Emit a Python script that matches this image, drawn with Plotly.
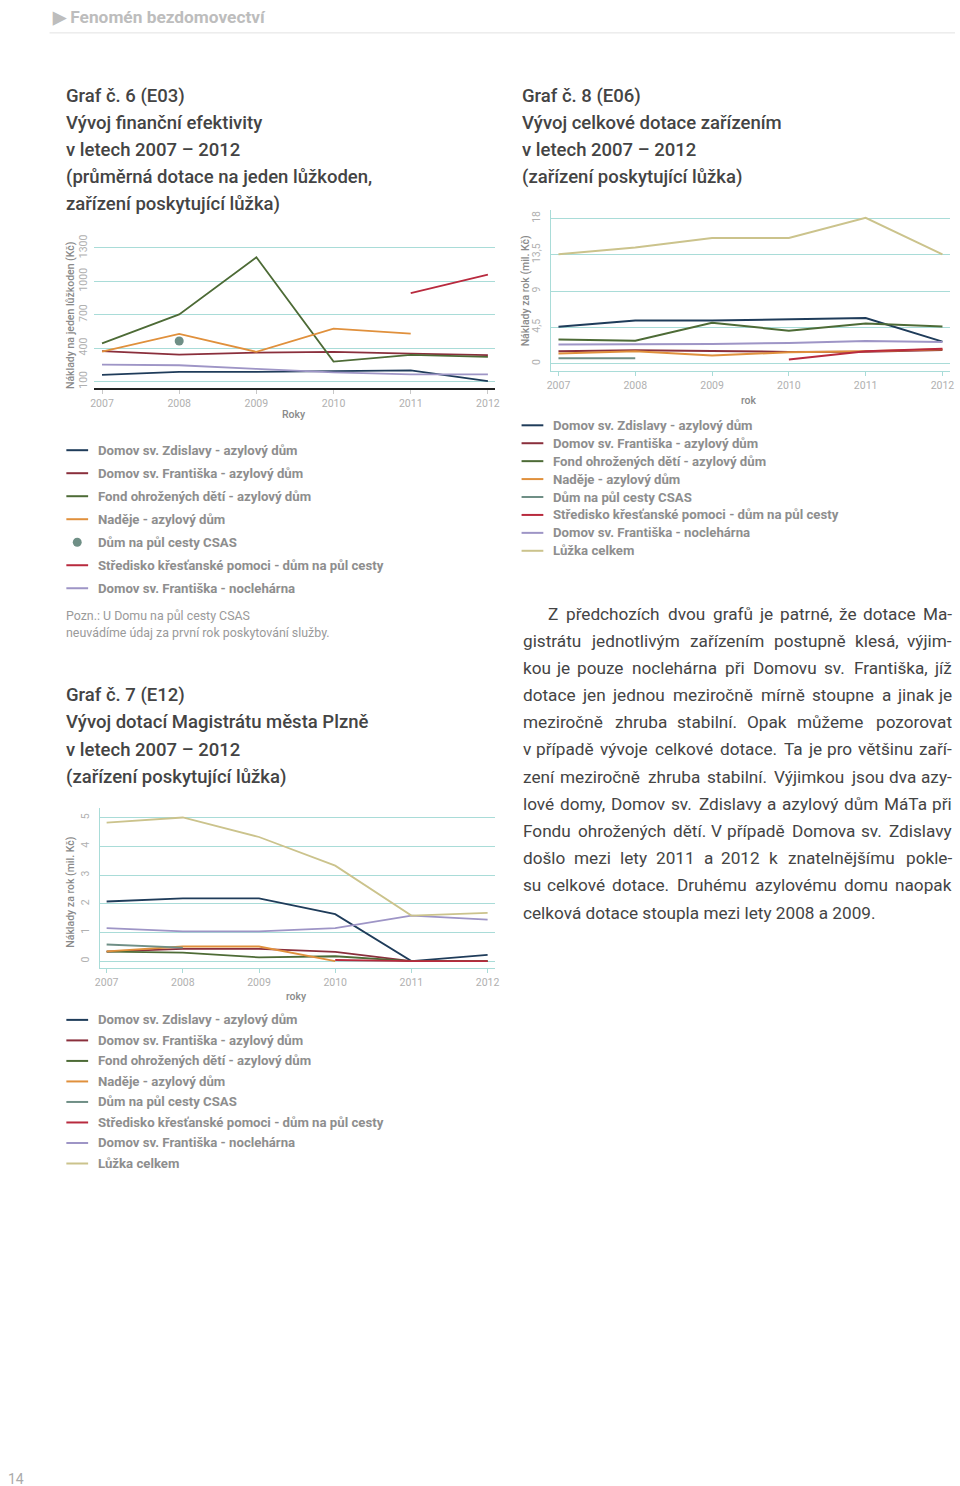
import plotly.graph_objects as go

W, H = 960, 1486
years = [2007, 2008, 2009, 2010, 2011, 2012]

names = [
    "Domov sv. Zdislavy - azylový dům",
    "Domov sv. Františka - azylový dům",
    "Fond ohrožených dětí - azylový dům",
    "Naděje - azylový dům",
    "Dům na půl cesty CSAS",
    "Středisko křesťanské pomoci - dům na půl cesty",
    "Domov sv. Františka - noclehárna",
    "Lůžka celkem",
]
colors = ["#1f3c5a", "#8a2f3c", "#4d6b36", "#e0903c", "#6f8f86", "#b82a3e", "#9e95c6", "#cbc38c"]

# Graf 6 (E03) - Kč per lůžkoden
g6_zdislavy = [160, 187, 187, 190, 199, 103]
g6_frantiska = [372, 342, 360, 366, 351, 336]
g6_fond = [443, 703, 1216, 279, 339, 321]
g6_nadeje = [369, 527, 366, 575, 530, None]
g6_csas = [None, 464, None, None, None, None]
g6_stredisko = [None, None, None, None, 894, 1061]
g6_nocleharna = [252, 246, 213, 181, 163, 163]
g6_ticks = [100, 400, 700, 1000, 1300]

# Graf 8 (E06) - mil. Kč
g8_zdislavy = [4.57, 5.35, 5.35, 5.48, 5.64, 2.72]
g8_frantiska = [1.52, 1.65, 1.57, 1.44, 1.48, 1.69]
g8_fond = [2.97, 2.84, 5.07, 4.08, 4.98, 4.61]
g8_nadeje = [1.24, 1.52, 0.99, 1.40, 1.52, 1.77]
g8_csas = [0.66, 0.66, None, None, None, None]
g8_stredisko = [None, None, None, 0.49, 1.52, 1.85]
g8_nocleharna = [2.35, 2.35, 2.43, 2.55, 2.80, 2.68]
g8_luzka = [13.55, 14.41, 15.57, 15.57, 18.08, 13.55]
g8_ticks = [0, 4.5, 9, 13.5, 18]
g8_ticktext = ["0", "4,5", "9", "13,5", "18"]

# Graf 7 (E12) - mil. Kč
g7_zdislavy = [2.08, 2.19, 2.19, 1.64, 0.0, 0.22]
g7_frantiska = [0.33, 0.43, 0.43, 0.32, 0.0, 0.0]
g7_fond = [0.33, 0.30, 0.13, 0.17, 0.0, 0.0]
g7_nadeje = [0.34, 0.51, 0.51, 0.0, None, None]
g7_csas = [0.58, 0.47, None, None, None, None]
g7_stredisko = [None, None, None, 0.04, 0.0, 0.0]
g7_nocleharna = [1.15, 1.04, 1.04, 1.15, 1.59, 1.45]
g7_luzka = [4.83, 5.01, 4.33, 3.33, 1.59, 1.68]
g7_ticks = [0, 1, 2, 3, 4, 5]

TEXT = "#444444"
LEG = "#8e8e8e"
TICK = "#b0b0b0"
GRID = "#a9dcd8"
FONT = "Roboto, 'Liberation Sans', sans-serif"


def px(x):
    return x / W


def py(y):
    return 1 - y / H


fig = go.Figure()

# ---------- traces ----------
g6 = [g6_zdislavy, g6_frantiska, g6_fond, g6_nadeje, g6_csas, g6_stredisko, g6_nocleharna]
for i, s in enumerate(g6):
    if i == 4:
        fig.add_trace(go.Scatter(x=years, y=s, mode="markers", name=names[i],
                                 marker=dict(size=9, color=colors[i]),
                                 xaxis="x", yaxis="y", showlegend=False))
    else:
        fig.add_trace(go.Scatter(x=years, y=s, mode="lines", name=names[i],
                                 line=dict(color=colors[i], width=1.8),
                                 xaxis="x", yaxis="y", showlegend=False))

g8 = [g8_zdislavy, g8_frantiska, g8_fond, g8_nadeje, g8_csas, g8_stredisko, g8_nocleharna, g8_luzka]
for i, s in enumerate(g8):
    fig.add_trace(go.Scatter(x=years, y=s, mode="lines", name=names[i],
                             line=dict(color=colors[i], width=2),
                             xaxis="x2", yaxis="y2", showlegend=False))

g7 = [g7_zdislavy, g7_frantiska, g7_fond, g7_nadeje, g7_csas, g7_stredisko, g7_nocleharna, g7_luzka]
for i, s in enumerate(g7):
    fig.add_trace(go.Scatter(x=years, y=s, mode="lines", name=names[i],
                             line=dict(color=colors[i], width=1.8),
                             xaxis="x3", yaxis="y3", showlegend=False))

tickfont = dict(family=FONT, size=10.5, color=TICK)

fig.update_layout(
    width=W, height=H,
    margin=dict(l=0, r=0, t=0, b=0),
    paper_bgcolor="white", plot_bgcolor="white",
    showlegend=False,
    font=dict(family=FONT),
    # chart 6
    xaxis=dict(domain=[px(90), px(495)], anchor="y", range=[2006.897, 2012.09],
               tickvals=years, ticks="outside", ticklen=4, tickcolor="#c8c8c8",
               showline=True, linecolor="#222222", linewidth=1.5, showgrid=False,
               zeroline=False, tickfont=tickfont),
    yaxis=dict(domain=[py(384), py(235)], anchor="x", range=[37.3, 1371],
               tickvals=g6_ticks, tickangle=-90, showgrid=True, gridcolor=GRID,
               gridwidth=1, showline=False, zeroline=False, ticks="",
               tickfont=tickfont, ticklabelstandoff=4),
    # chart 8
    xaxis2=dict(domain=[px(552), px(955)], anchor="y2", range=[2006.906, 2012.099],
                tickvals=years, ticks="outside", ticklen=4, tickcolor=GRID,
                showline=True, linecolor=GRID, linewidth=1.2, showgrid=False,
                zeroline=False, tickfont=tickfont),
    yaxis2=dict(domain=[py(366.7), py(205)], anchor="x2", range=[-0.95, 19.03],
                tickvals=g8_ticks, ticktext=g8_ticktext, tickangle=-90,
                showgrid=True, gridcolor=GRID, gridwidth=1, showline=True,
                linecolor=GRID, linewidth=1.2, zeroline=False, ticks="",
                tickfont=tickfont, ticklabelstandoff=6),
    # chart 7
    xaxis3=dict(domain=[px(96), px(495)], anchor="y3", range=[2006.913, 2012.095],
                tickvals=years, ticks="outside", ticklen=4, tickcolor=GRID,
                showline=True, linecolor=GRID, linewidth=1.2, showgrid=False,
                zeroline=False, tickfont=tickfont),
    yaxis3=dict(domain=[py(966), py(805)], anchor="x3", range=[-0.243, 5.35],
                tickvals=g7_ticks, tickangle=-90, showgrid=True, gridcolor=GRID,
                gridwidth=1, showline=True, linecolor=GRID, linewidth=1.2,
                zeroline=False, ticks="", tickfont=tickfont, ticklabelstandoff=6),
)

ann = []
shapes = []


def text(x, y, s, size, color=TEXT, anchor="left", weight="normal", angle=0, family=FONT):
    ann.append(dict(x=px(x), y=py(y), xref="paper", yref="paper", text=s,
                    showarrow=False, xanchor=anchor, yanchor="middle",
                    textangle=angle, borderpad=0,
                    font=dict(family=family, size=size, color=color, weight=weight)))


# header
text(46, 11, "\u25B6\uFE0E Fenomén bezdomovectví", 17.3, color="#bdbdbd", weight="bold")
shapes.append(dict(type="line", xref="paper", yref="paper", x0=px(45), x1=px(960),
                   y0=py(27), y1=py(27), line=dict(color="#e2e2e2", width=1)))

TS = 18.5
# titles
t6 = ["Graf č. 6 (E03)", "Vývoj finanční efektivity", "v letech 2007 – 2012",
      "(průměrná dotace na jeden lůžkoden,", "zařízení poskytující lůžka)"]
for k, s in enumerate(t6):
    text(61, 90 + k * 27.3, s, TS, weight=500)
t8 = ["Graf č. 8 (E06)", "Vývoj celkové dotace zařízením", "v letech 2007 – 2012",
      "(zařízení poskytující lůžka)"]
for k, s in enumerate(t8):
    text(521, 90 + k * 27.3, s, TS, weight=500)
t7 = ["Graf č. 7 (E12)", "Vývoj dotací Magistrátu města Plzně", "v letech 2007 – 2012",
      "(zařízení poskytující lůžka)"]
for k, s in enumerate(t7):
    text(61, 692 + k * 27.3, s, TS, weight=500)

# axis titles
AX = "#8a8a8a"
text(66, 310, "Náklady na jeden lůžkoden (Kč)", 10.5, color=AX, anchor="center", weight=500, angle=-90)
text(292, 410, "Roky", 10.5, color=AX, anchor="center", weight=500)
text(526, 286, "Náklady za rok (mil. Kč)", 10.5, color=AX, anchor="center", weight=500, angle=-90)
text(752, 396, "rok", 10.5, color=AX, anchor="center", weight=500)
text(66, 890, "Náklady za rok (mil. Kč)", 10.5, color=AX, anchor="center", weight=500, angle=-90)
text(295, 995, "roky", 10.5, color=AX, anchor="center", weight=500)


def legend(x0, y0, step, n, dot_index=None):
    for i in range(n):
        y = y0 + i * step
        if i == dot_index:
            shapes.append(dict(type="circle", xref="paper", yref="paper",
                               x0=px(68.5), x1=px(77.5), y0=py(y - 4.5), y1=py(y + 4.5),
                               fillcolor=colors[i], line=dict(width=0)))
        else:
            shapes.append(dict(type="line", xref="paper", yref="paper",
                               x0=px(x0), x1=px(x0 + 22), y0=py(y), y1=py(y),
                               line=dict(color=colors[i], width=2)))
        text(x0 + 31, y, names[i], 13.2, color=LEG, weight="bold")


legend(62, 446, 23.1, 7, dot_index=4)
legend(522, 421, 18.0, 8)
legend(62, 1018, 20.6, 8)

# note
text(61, 612, "Pozn.: U Domu na půl cesty CSAS", 12.4, color="#9a9a9a")
text(61, 629, "neuvádíme údaj za první rok poskytování služby.", 12.4, color="#9a9a9a")

# paragraph (justified)
para = [
    "Z předchozích dvou grafů je patrné, že dotace Ma-",
    "gistrátu jednotlivým zařízením postupně klesá, výjim-",
    "kou je pouze noclehárna při Domovu sv. Františka, jíž",
    "dotace jen jednou meziročně mírně stoupne a jinak je",
    "meziročně zhruba stabilní. Opak můžeme pozorovat",
    "v případě vývoje celkové dotace. Ta je pro většinu zaří-",
    "zení meziročně zhruba stabilní. Výjimkou jsou dva azy-",
    "lové domy, Domov sv. Zdislavy a azylový dům MáTa při",
    "Fondu ohrožených dětí. V případě Domova sv. Zdislavy",
    "došlo mezi lety 2011 a 2012 k znatelnějšímu pokle-",
    "su celkové dotace. Druhému azylovému domu naopak",
    "celková dotace stoupla mezi lety 2008 a 2009.",
]

CW = {
    'a': .544, 'b': .561, 'c': .523, 'd': .564, 'e': .530, 'f': .347, 'g': .561,
    'h': .551, 'i': .243, 'j': .239, 'k': .507, 'l': .243, 'm': .876, 'n': .552,
    'o': .570, 'p': .561, 'q': .568, 'r': .338, 's': .516, 't': .327, 'u': .551,
    'v': .484, 'w': .751, 'x': .496, 'y': .473, 'z': .496,
    'Z': .613, 'M': .873, 'T': .610, 'O': .688, 'V': .636, 'D': .655, 'F': .553,
    '.': .263, ',': .196, '-': .276, ' ': .248,
}
BASE = str.maketrans("áčďéěíňóřšťúůýžÁČĎÉĚÍŇÓŘŠŤÚŮÝŽ", "acdeeinorstuuyzACDEEINORSTUUYZ")


def wid(w, size):
    return sum(CW.get(c.translate(BASE), .561) for c in w) * size * 1.06


PSIZE = 17.2
left, right = 522, 958
for k, line in enumerate(para):
    y = 610 + k * 27.3
    x_start = 548 if k == 0 else left
    if k == len(para) - 1:
        text(x_start, y, line, PSIZE)
        continue
    words = line.split(" ")
    ws = [wid(w, PSIZE) for w in words]
    gap = (right - x_start - sum(ws)) / (len(words) - 1)
    x = x_start
    for j, w in enumerate(words):
        if j == 0:
            text(x, y, w, PSIZE, anchor="left")
        elif j == len(words) - 1:
            text(right, y, w, PSIZE, anchor="right")
        else:
            text(x + ws[j] / 2, y, w, PSIZE, anchor="center")
        x += ws[j] + gap

# page number
text(2, 1479, "14", 14, color="#aaaaaa")

fig.update_layout(annotations=ann, shapes=shapes)
fig.write_html("out.html", config={"displayModeBar": False},
               post_script="document.body.style.margin='0';document.body.style.overflow='hidden';")
